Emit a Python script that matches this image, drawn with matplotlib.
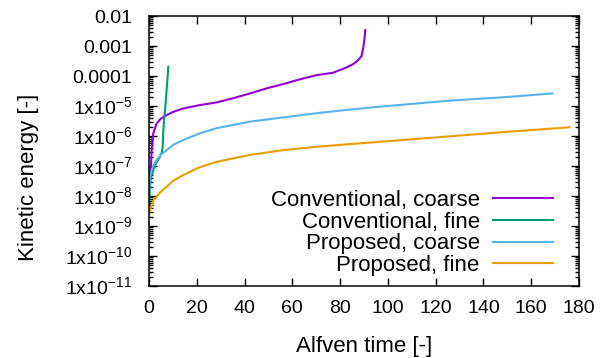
import numpy as np
import matplotlib
matplotlib.use('Agg')
import matplotlib.pyplot as plt
from matplotlib.ticker import LogLocator, FixedLocator, NullFormatter

plt.rcParams['font.family'] = ['Liberation Sans', 'DejaVu Sans']
plt.rcParams['mathtext.fontset'] = 'custom'
plt.rcParams['mathtext.rm'] = 'Liberation Sans'

# energies are read off the log axis, stored as log10 values
# Conventional, coarse
conv_coarse_t = [0.3, 0.8, 1.1, 1.4, 1.8, 3.2, 5, 7.4, 10, 14.4, 21.3, 28.3, 35.3, 42.3, 49.3, 56.2,
                 63.2, 70.2, 77.1, 82.8, 85.5, 87.6, 89, 89.8, 90.3, 90.5]
conv_coarse_log = [-7.4, -7.0, -6.5, -6.2, -5.91, -5.58, -5.42, -5.3, -5.2, -5.08, -4.97, -4.88, -4.74,
                   -4.58, -4.41, -4.27, -4.11, -3.97, -3.89, -3.71, -3.6, -3.47, -3.33, -3.0, -2.7, -2.47]
# Conventional, fine
conv_fine_t = [0.1, 0.5, 1.0, 1.8, 3.0, 4.6, 5.3, 5.7, 6.0, 6.7, 7.4, 8.1]
conv_fine_log = [-8.3, -7.6, -7.3, -7.13, -6.9, -6.69, -6.55, -6.4, -5.8, -5.13, -4.45, -3.69]
# Proposed, coarse
prop_coarse_t = [0.1, 0.4, 1.0, 2.0, 3.2, 5.0, 7.4, 10, 14.4, 21.3, 28.3, 42.3, 56.2, 70.2, 84.1,
                 97, 126, 150, 169]
prop_coarse_log = [-7.9, -7.36, -7.15, -6.95, -6.8, -6.62, -6.47, -6.3, -6.13, -5.91, -5.74, -5.52,
                   -5.38, -5.24, -5.12, -5.02, -4.82, -4.7, -4.58]
# Proposed, fine
prop_fine_t = [0.05, 0.4, 1.8, 3.2, 5.0, 7.4, 10, 14.4, 21.3, 28.3, 42.3, 56.2, 70.2, 84.1, 97,
               126, 150, 176]
prop_fine_log = [-8.6, -8.47, -8.15, -8.02, -7.85, -7.69, -7.5, -7.3, -7.04, -6.86, -6.63, -6.47,
                 -6.36, -6.27, -6.19, -6.01, -5.86, -5.71]

series = [
    (conv_coarse_t, conv_coarse_log, '#9400d3', 'Conventional, coarse'),
    (conv_fine_t, conv_fine_log, '#009e73', 'Conventional, fine'),
    (prop_coarse_t, prop_coarse_log, '#56b4e9', 'Proposed, coarse'),
    (prop_fine_t, prop_fine_log, '#e69f00', 'Proposed, fine'),
]

xticks = [0, 20, 40, 60, 80, 100, 120, 140, 160, 180]
yticks = [1e-2, 1e-3, 1e-4, 1e-5, 1e-6, 1e-7, 1e-8, 1e-9, 1e-10, 1e-11]
ytick_labels = ['0.01', '0.001', '0.0001',
                r'1x10$^{\mathregular{-5}}$', r'1x10$^{\mathregular{-6}}$', r'1x10$^{\mathregular{-7}}$',
                r'1x10$^{\mathregular{-8}}$', r'1x10$^{\mathregular{-9}}$', r'1x10$^{\mathregular{-10}}$',
                r'1x10$^{\mathregular{-11}}$']

fig = plt.figure(figsize=(6.13, 3.58), dpi=100)
ax = fig.add_axes([149 / 613, 1 - 286 / 358, 430 / 613, 270 / 358])

for t, loge, c, name in series:
    ax.plot(t, 10.0 ** np.array(loge), color=c, lw=1.5, label=name)

ax.set_yscale('log')
ax.set_xlim(0, 180)
ax.set_ylim(1e-11, 1e-2)
ax.set_xticks(xticks)
ax.yaxis.set_major_locator(FixedLocator(yticks))
ax.set_yticklabels(ytick_labels)
ax.yaxis.set_minor_locator(LogLocator(base=10, subs=np.arange(2, 10), numticks=50))
ax.yaxis.set_minor_formatter(NullFormatter())

ax.tick_params(which='both', direction='in', top=True, right=True, labelsize=14, width=1)
ax.tick_params(axis='y', pad=12)
ax.tick_params(axis='x', pad=10)
ax.tick_params(which='major', length=6)
ax.tick_params(which='minor', length=3)
for s in ax.spines.values():
    s.set_linewidth(1.1)

ax.set_xlabel('Alfven time [-]', fontsize=16)
ax.set_ylabel('Kinetic energy [-]', fontsize=16)
ax.xaxis.set_label_coords(0.5, -0.187)
ax.yaxis.set_label_coords(-0.256, 0.404)

ax.legend(loc='upper right', bbox_to_anchor=(553 / 613, 1 - 190 / 358), bbox_transform=fig.transFigure,
          frameon=False, markerfirst=False, fontsize=16, handlelength=2.7, handletextpad=0.6,
          labelspacing=0.03, borderpad=0, borderaxespad=0)

fig.savefig('out.png', dpi=100)
